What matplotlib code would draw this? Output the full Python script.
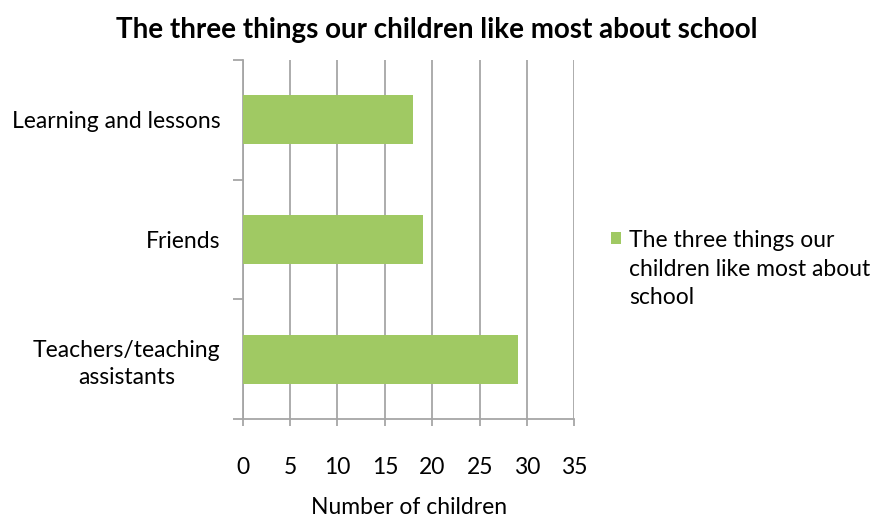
import matplotlib.pyplot as plt

plt.rcParams['font.family'] = ['Lato', 'DejaVu Sans']

categories = ['Teachers/teaching\nassistants', 'Friends', 'Learning and lessons']
counts = [29, 19, 18]
series_name = 'The three things our\nchildren like most about\nschool'

fs = 16.5
fig = plt.figure(figsize=(8.73, 5.18), dpi=100)
ax = fig.add_axes([0.278, 0.191, 0.380, 0.693])

bars = ax.barh(range(len(categories)), counts, height=0.41, color='#a0c963',
               label=series_name, zorder=3)

ax.set_xlim(0, 35)
ax.set_ylim(-0.5, 2.5)
ax.set_xticks(range(0, 36, 5))
ax.set_yticks([-0.5, 0.5, 1.5, 2.5], minor=False)
ax.set_yticklabels([])
ax.set_yticks(range(len(categories)), minor=True)
ax.set_yticklabels(categories, minor=True, ha='right', multialignment='center',
                   fontsize=fs, linespacing=1.35)
ax.tick_params(axis='y', which='minor', length=0, pad=16)
ax.tick_params(axis='y', which='major', length=7, color='#a6a6a6', width=1.3)
ax.tick_params(axis='x', length=5, color='#a6a6a6', width=1.3, pad=22, labelsize=fs)
ax.grid(axis='x', color='#a6a6a6', linewidth=1.3, zorder=0)
for s in ['top', 'right']:
    ax.spines[s].set_visible(False)
for s in ['left', 'bottom']:
    ax.spines[s].set_color('#a6a6a6')
    ax.spines[s].set_linewidth(1.3)

ax.set_xlabel('Number of children', fontsize=fs, labelpad=14)
fig.suptitle('The three things our children like most about school',
             fontsize=20, fontweight='bold', y=0.942, va='center')

ls = 1.45
leg = fig.legend(loc='upper left', bbox_to_anchor=(0.700, 0.556), frameon=False,
                 fontsize=fs, handlelength=0.45, handleheight=0.45,
                 handletextpad=0.35, borderaxespad=0, borderpad=0)
leg.get_texts()[0].set_linespacing(ls)
# move the square up to sit beside the first line of the label
for p in leg.get_patches():
    p.set_y(p.get_y() + fs * ls * 0.95)

fig.savefig('out.png', dpi=100)
